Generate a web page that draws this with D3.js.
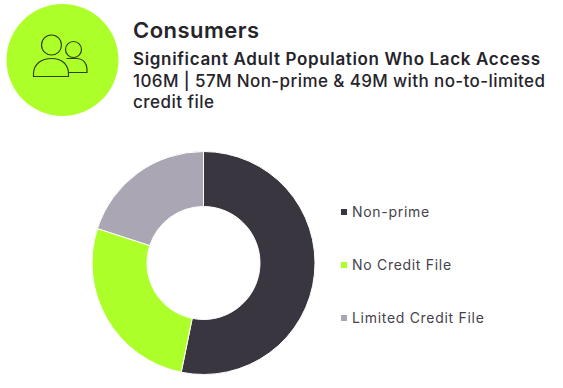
<!DOCTYPE html>
<html>
<head>
<meta charset="utf-8">
<style>
html,body{margin:0;padding:0;background:#fff}
svg{display:block}
text{font-family:Inter,"Open Sans",sans-serif}
</style>
<script src="https://cdn.jsdelivr.net/npm/d3@7/dist/d3.min.js"></script>
</head>
<body>
<svg id="chart" width="563" height="388"></svg>
<script>
// Share of the 106M adult population without access, by credit status
const categories = ["Non-prime", "No Credit File", "Limited Credit File"];
const shares = [53.2, 26.8, 20];
const palette = ["#3a3640", "#adff29", "#aba6b4"];

const heading = "Consumers";
const subheading = "Significant Adult Population Who Lack Access";
const bodyLines = ["106M | 57M Non-prime & 49M with no-to-limited", "credit file"];

const svg = d3.select("#chart");
const ink = "#26242b";

// Badge with the two-person glyph
const badge = svg.append("g").attr("transform", "translate(62.5,60)");
badge.append("circle").attr("r", 56).attr("fill", palette[1]);
const glyph = badge.append("g")
  .attr("fill", "none").attr("stroke", "#2f4212").attr("stroke-width", 1.2);
glyph.append("circle").attr("cx", -11).attr("cy", -15).attr("r", 10);
glyph.append("circle").attr("cx", 11).attr("cy", -10.5).attr("r", 8);
glyph.append("path").attr("d", "M-29 16.5 L-29 14 C-29 4 -21 -1.5 -11 -1.5 C-1 -1.5 6 4 6 14 L6 16.5 Z").attr("stroke-linejoin", "round");
glyph.append("path").attr("d", "M4 -1.5 L14 -1.5 C21 -1.5 24.5 4 24.5 9 L24.5 12.5 L6 12.5").attr("stroke-linejoin", "round");

// Heading block
svg.append("text").attr("x", 133).attr("y", 38)
  .attr("font-size", 22).attr("font-weight", 600).attr("fill", ink)
  .attr("textLength", 126).attr("lengthAdjust", "spacing")
  .text(heading);
svg.append("text").attr("x", 133).attr("y", 65)
  .attr("font-size", 17).attr("font-weight", 600).attr("fill", ink)
  .attr("textLength", 407).attr("lengthAdjust", "spacing")
  .text(subheading);
svg.selectAll("text.body").data(bodyLines).join("text").attr("class", "body")
  .attr("x", 133).attr("y", (d, i) => 87 + i * 21)
  .attr("font-size", 17).attr("font-weight", 500).attr("fill", ink)
  .attr("textLength", (d, i) => i === 0 ? 412 : 81).attr("lengthAdjust", "spacing")
  .text(d => d);

// Donut, starting at twelve o'clock and running clockwise
const color = d3.scaleOrdinal().domain(categories).range(palette);
const pie = d3.pie().value(d => d.share).sort(null);
const arc = d3.arc().innerRadius(56.5).outerRadius(111.5);
const rows = categories.map((name, i) => ({ name, share: shares[i] }));
svg.append("g").attr("transform", "translate(203.5,263)")
  .selectAll("path").data(pie(rows)).join("path")
  .attr("d", arc)
  .attr("fill", d => color(d.data.name))
  .attr("stroke", "#fff").attr("stroke-width", 1);

// Legend
const legendY = d3.scalePoint().domain(categories).range([212, 318]);
const legend = svg.selectAll("g.key").data(categories).join("g").attr("class", "key")
  .attr("transform", d => `translate(341,${legendY(d)})`);
legend.append("rect").attr("x", 0).attr("y", -3).attr("width", 6).attr("height", 6)
  .attr("fill", d => color(d));
legend.append("text").attr("x", 11).attr("y", 5)
  .attr("font-size", 14).attr("letter-spacing", 0.7).attr("fill", "#45424c")
  .text(d => d);
</script>
</body>
</html>
